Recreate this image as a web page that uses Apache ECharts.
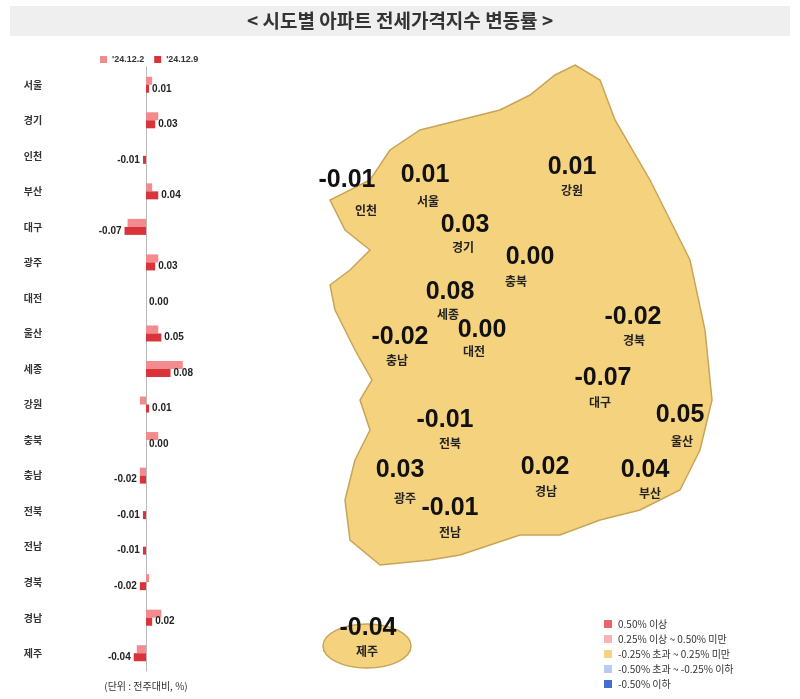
<!DOCTYPE html><html><head><meta charset="utf-8"><script src="https://cdn.jsdelivr.net/npm/echarts@6/dist/echarts.min.js"></script>
<style>html,body{margin:0;background:#fff}#c{width:800px;height:699px}</style></head><body><div id="c"></div><script>
const regions=['서울','경기','인천','부산','대구','광주','대전','울산','세종','강원','충북','충남','전북','전남','경북','경남','제주'];
const prevWeek=[0.02,0.04,0.00,0.02,-0.06,0.04,0.00,0.04,0.12,-0.02,0.04,-0.02,0.00,0.00,0.01,0.05,-0.03];
const thisWeek=[0.01,0.03,-0.01,0.04,-0.07,0.03,0.00,0.05,0.08,0.01,0.00,-0.02,-0.01,-0.01,-0.02,0.02,-0.04];
const seriesNames=["'24.12.2","'24.12.9"];
const legendItems=[['#e8646a','0.50% 이상'],['#f7b3b3','0.25% 이상 ~ 0.50% 미만'],['#f5d27e','-0.25% 초과 ~ 0.25% 미만'],['#b9cbef','-0.50% 초과 ~ -0.25% 이하'],['#3e6fd8','-0.50% 이하']];
// map label anchor points (decorative map)
const mapPos={'인천':[347,180,366,210],'서울':[425,175,428,201],'경기':[465,225,463,247],'강원':[572,167,572,190],'충북':[530,257,516,281],'세종':[450,292,448,314],'대전':[482,330,474,351],'충남':[400,337,397,360],'경북':[633,317,634,340],'대구':[603,378,600,402],'울산':[680,415,682,441],'전북':[445,420,450,443],'경남':[545,467,546,491],'부산':[645,470,650,493],'광주':[400,470,405,498],'전남':[450,508,450,532],'제주':[368,628,367,651]};
const ch=echarts.init(document.getElementById('c'));
const g=[];
g.push({type:'rect',shape:{x:10,y:6,width:780,height:30},style:{fill:'#efefef'},z:-1});
g.push({type:'text',style:{x:400,y:21,text:'< 시도별 아파트 전세가격지수 변동률 >',font:'bold 19px "Noto Sans CJK KR"',fill:'#333',align:'center',verticalAlign:'middle'}});
g.push({type:'polygon',shape:{points:[[575,65],[600,80],[615,120],[650,180],[690,260],[705,330],[712,400],[700,450],[680,490],[640,510],[600,520],[560,535],[520,535],[490,545],[460,555],[430,560],[380,565],[350,540],[345,500],[355,460],[370,430],[360,400],[372,380],[355,350],[335,310],[330,285],[350,270],[370,250],[345,230],[330,200],[370,180],[390,150],[420,130],[460,120],[500,110],[530,95],[555,75]]},style:{fill:'#f5d27e',stroke:'#c9a458',lineWidth:1.5},z:0});
g.push({type:'ellipse',shape:{cx:367,cy:646,rx:44,ry:22},style:{fill:'#f5d27e',stroke:'#c9a458',lineWidth:1.5},z:0});
regions.forEach((r,i)=>{const p=mapPos[r];
 g.push({type:'text',z:5,style:{x:p[0],y:p[1],text:thisWeek[i].toFixed(2),font:'bold 25px "Liberation Sans"',fill:'#111',align:'center',verticalAlign:'middle'}});
 g.push({type:'text',z:5,style:{x:p[2],y:p[3],text:r,font:'bold 12px "Noto Sans CJK KR"',fill:'#222',align:'center',verticalAlign:'middle'}});});
legendItems.forEach((l,i)=>{g.push({type:'rect',shape:{x:604,y:620+i*15,width:8,height:8},style:{fill:l[0]}});
 g.push({type:'text',style:{x:618,y:624+i*15,text:l[1],font:'10px "Noto Sans CJK KR"',fill:'#333',verticalAlign:'middle'}});});
g.push({type:'text',style:{x:146,y:686,text:'(단위 : 전주대비, %)',font:'10px "Noto Sans CJK KR"',fill:'#333',align:'center',verticalAlign:'middle'}});
const lab=(v)=>({value:v,label:{position:v<0?'left':'right'}});
ch.setOption({animation:false,
 legend:{top:50,left:95,itemWidth:7,itemHeight:7,itemGap:10,icon:'rect',textStyle:{fontSize:9,fontWeight:'bold',color:'#333'},data:seriesNames},
 grid:{left:100,width:92,top:67,bottom:28,containLabel:false,outerBoundsMode:'none'},
 xAxis:{type:'value',min:-0.15,max:0.15,show:false},
 yAxis:[{type:'category',inverse:true,data:regions,axisLine:{onZero:true,lineStyle:{color:'#bbb'}},axisTick:{length:3,lineStyle:{color:'#bbb'}},axisLabel:{show:false}},
  {type:'category',inverse:true,data:regions,position:'left',axisLine:{show:false,onZero:false},axisTick:{show:false},
  axisLabel:{margin:67,align:'center',fontSize:10,fontWeight:'bold',color:'#333',fontFamily:'Noto Sans CJK KR'}}],
 series:[{name:seriesNames[0],type:'bar',data:prevWeek,barWidth:8,barGap:'0%',itemStyle:{color:'#f28a8e'}},
  {name:seriesNames[1],type:'bar',data:thisWeek.map(lab),barWidth:8,itemStyle:{color:'#d9343b'},label:{show:true,formatter:p=>p.value.toFixed(2),fontSize:10,fontWeight:'bold',color:'#222',distance:3}}],
 graphic:g});
</script></body></html>
